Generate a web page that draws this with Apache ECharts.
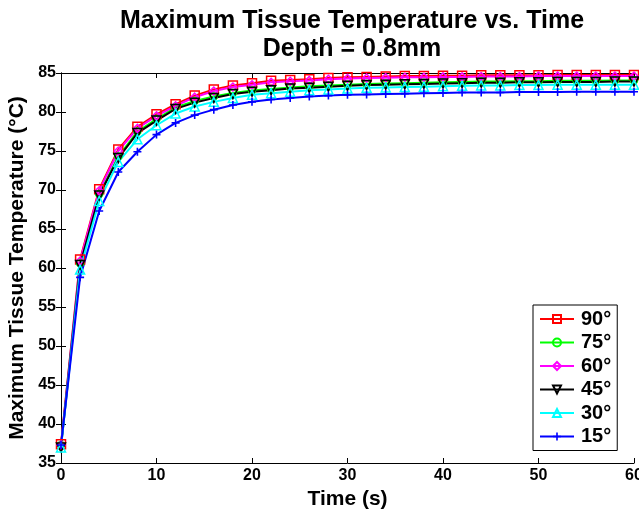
<!DOCTYPE html>
<html>
<head>
<meta charset="utf-8">
<script src="https://cdn.jsdelivr.net/npm/echarts@6/dist/echarts.min.js"></script>
<style>
  html, body { margin: 0; padding: 0; background: #fff; }
  #chart { width: 639px; height: 512px; }
</style>
</head>
<body>
<div id="chart"></div>
<script>
// time axis (s)
const times = [0, 2, 4, 6, 8, 10, 12, 14, 16, 18, 20, 22, 24, 26, 28, 30,
  32, 34, 36, 38, 40, 42, 44, 46, 48, 50, 52, 54, 56, 58, 60]

// max tissue temperature per angle (°C)
const temp90 = [37.4, 61.1, 70.1, 75.2, 78.1, 79.7, 81.0, 82.1, 82.9, 83.4, 83.7, 84.0, 84.1, 84.2, 84.35, 84.45,
  84.5, 84.55, 84.6, 84.6, 84.65, 84.65, 84.7, 84.7, 84.7, 84.7, 84.75, 84.75, 84.75, 84.75, 84.75]
const temp75 = [37.3, 60.6, 69.5, 74.3, 77.5, 79.1, 80.6, 81.4, 82.0, 82.45, 82.75, 82.95, 83.15, 83.3, 83.4, 83.5,
  83.6, 83.65, 83.7, 83.75, 83.8, 83.85, 83.9, 83.9, 83.95, 83.95, 84.0, 84.0, 84.0, 84.05, 84.05]
const temp60 = [37.3, 60.9, 69.9, 75.0, 77.9, 79.5, 80.8, 81.9, 82.7, 83.2, 83.5, 83.8, 83.95, 84.05, 84.2, 84.3,
  84.35, 84.4, 84.45, 84.45, 84.5, 84.5, 84.55, 84.55, 84.55, 84.6, 84.6, 84.6, 84.6, 84.6, 84.6]
const temp45 = [37.0, 60.4, 69.3, 74.1, 77.3, 78.9, 80.4, 81.2, 81.8, 82.3, 82.6, 82.8, 83.0, 83.1, 83.25, 83.35,
  83.45, 83.5, 83.55, 83.6, 83.65, 83.7, 83.75, 83.75, 83.8, 83.8, 83.85, 83.85, 83.85, 83.9, 83.9]
const temp30 = [37.0, 59.8, 68.6, 73.6, 76.5, 78.3, 79.8, 80.7, 81.3, 81.8, 82.2, 82.4, 82.6, 82.8, 82.9, 83.0,
  83.1, 83.15, 83.2, 83.25, 83.3, 83.35, 83.4, 83.4, 83.45, 83.45, 83.5, 83.5, 83.5, 83.5, 83.5]
const temp15 = [37.3, 58.8, 67.3, 72.3, 74.9, 77.1, 78.6, 79.6, 80.3, 80.9, 81.3, 81.6, 81.8, 82.0, 82.1, 82.2,
  82.25, 82.3, 82.35, 82.4, 82.45, 82.5, 82.5, 82.5, 82.55, 82.55, 82.55, 82.6, 82.6, 82.6, 82.6]

const xTicks = [0, 10, 20, 30, 40, 50, 60]
const yTicks = [35, 40, 45, 50, 55, 60, 65, 70, 75, 80, 85]

const font = 'Liberation Sans, Arial, sans-serif'
const starPath = 'path://M4,0h2v4h4v2h-4v4h-2v-4h-4v-2h4z'

const lines = [
  { name: '90°', data: temp90, color: '#ff0000', symbol: 'rect', size: 9, rotate: 0, fill: false },
  { name: '75°', data: temp75, color: '#00ff00', symbol: 'circle', size: 7, rotate: 0, fill: false },
  { name: '60°', data: temp60, color: '#ff00ff', symbol: 'diamond', size: 8, rotate: 0, fill: false },
  { name: '45°', data: temp45, color: '#000000', symbol: 'triangle', size: 9, rotate: 180, fill: false },
  { name: '30°', data: temp30, color: '#00ffff', symbol: 'triangle', size: 9, rotate: 0, fill: false },
  { name: '15°', data: temp15, color: '#0000ff', symbol: starPath, size: 8, rotate: 0, fill: true }
]

const chart = echarts.init(document.getElementById('chart'))

const axisText = { color: '#000', fontSize: 16, fontWeight: 'bold', fontFamily: font }
const nameText = { color: '#000', fontSize: 21, fontWeight: 'bold', fontFamily: font }
const blackLine = { lineStyle: { color: '#000', width: 1 } }
const tick = { inside: true, length: 5, lineStyle: { color: '#000' } }

const option = {
  backgroundColor: '#fff',
  animation: false,
  title: {
    text: 'Maximum Tissue Temperature vs. Time\nDepth = 0.8mm',
    left: 347,
    top: 2,
    textAlign: 'center',
    textStyle: { color: '#000', fontSize: 25, fontWeight: 'bold', fontFamily: font, lineHeight: 28 }
  },
  grid: { left: 61, right: 5, top: 73, bottom: 49, outerBoundsMode: 'none' },
  legend: {
    orient: 'vertical',
    left: 533,
    top: 305,
    padding: [4, 6, 4, 6],
    itemWidth: 34,
    itemHeight: 10,
    itemGap: 3.5,
    backgroundColor: '#fff',
    borderColor: '#000',
    borderWidth: 1,
    borderRadius: 0,
    textStyle: { color: '#000', fontSize: 20, fontWeight: 'bold', fontFamily: font, padding: [0, 0, 0, 2] },
    data: lines.map(l => l.name)
  },
  xAxis: [
    {
      type: 'value', min: 0, max: 60, interval: 10,
      name: 'Time (s)', nameLocation: 'middle', nameGap: 26,
      nameTextStyle: nameText,
      axisLine: blackLine,
      axisTick: tick,
      axisLabel: Object.assign({ margin: 5, customValues: xTicks }, axisText),
      splitLine: { show: false }
    },
    {
      type: 'value', min: 0, max: 60, interval: 10, position: 'top',
      axisLine: blackLine,
      axisTick: tick,
      axisLabel: { show: false },
      splitLine: { show: false }
    }
  ],
  yAxis: [
    {
      type: 'value', min: 35, max: 85, interval: 5,
      name: 'Maximum Tissue Temperature (°C)', nameLocation: 'middle', nameGap: 28,
      nameTextStyle: nameText,
      axisLine: blackLine,
      axisTick: tick,
      axisLabel: Object.assign({ margin: 5, customValues: yTicks }, axisText),
      splitLine: { show: false }
    },
    {
      type: 'value', min: 35, max: 85, interval: 5, position: 'right',
      axisLine: blackLine,
      axisTick: tick,
      axisLabel: { show: false },
      splitLine: { show: false }
    }
  ],
  series: lines.map(l => ({
    name: l.name,
    type: 'line',
    data: times.map((t, i) => [t, l.data[i]]),
    symbol: l.symbol,
    symbolSize: l.size,
    symbolRotate: l.rotate,
    showAllSymbol: true,
    lineStyle: { color: l.color, width: 2 },
    itemStyle: {
      color: l.fill ? l.color : 'rgba(255,255,255,0)',
      borderColor: l.color,
      borderWidth: l.fill ? 0 : 1.5
    },
    emphasis: { disabled: true }
  }))
}

chart.setOption(option)
</script>
</body>
</html>
